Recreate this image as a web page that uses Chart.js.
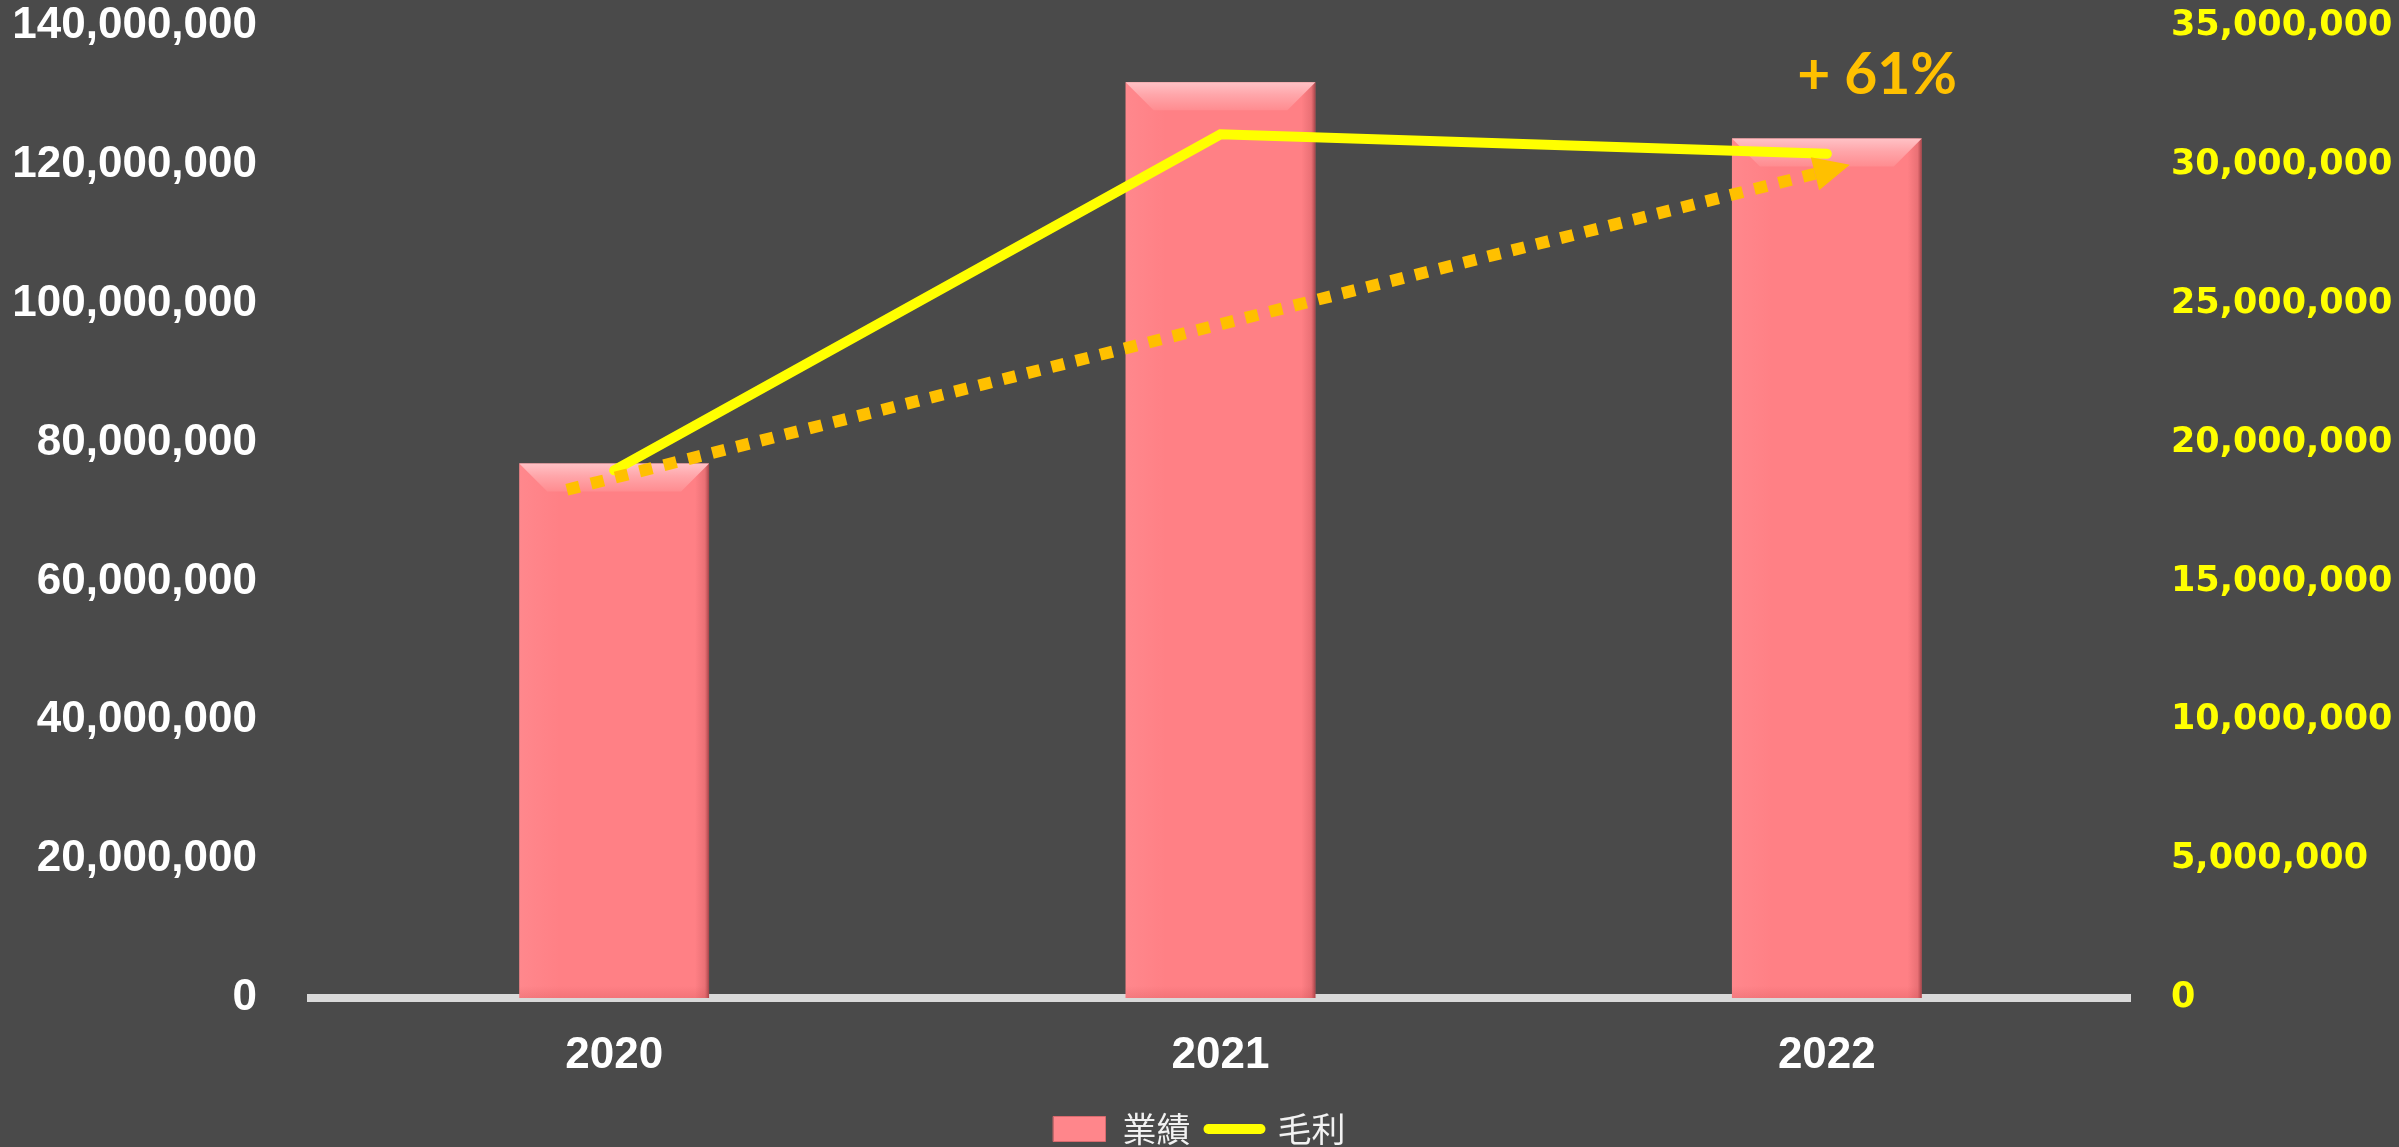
<!DOCTYPE html>
<html>
<head>
<meta charset="utf-8">
<script src="https://cdn.jsdelivr.net/npm/chart.js@4.4.1/dist/chart.umd.min.js"></script>
<style>
  html, body { margin: 0; padding: 0; background: #4a4a4a; }
  #wrap { width: 2399px; height: 1147px; }
</style>
</head>
<body>
<div id="wrap"><canvas id="myChart" width="2399" height="1147"></canvas></div>
<script>
// data
const years = ["2020", "2021", "2022"];
const sales = [77000000, 131900000, 123800000];      // 業績 (left axis)
const grossProfit = [19000000, 31100000, 30400000];  // 毛利 (right axis)
const salesLabel = "業績";
const profitLabel = "毛利";

// growth arrow annotation: [category index, right-axis value]
const arrowFrom = [-0.078, 18300000];
const arrowTo = [2.038, 30000000];
const growthText = "+ 61%";
const growthAt = [2.083, 33200000];

const barBevel = {
  id: "barBevel",
  afterDatasetDraw(chart, args) {
    if (args.meta.type !== "bar") return;
    const ctx = chart.ctx;
    args.meta.data.forEach((bar) => {
      const { x, y, base, width } = bar.getProps(["x", "y", "base", "width"], true);
      if (![x, y, base, width].every(Number.isFinite)) return;
      const l = x - width / 2, r = x + width / 2, b = 28;
      ctx.save();
      // left side slightly lighter
      let g = ctx.createLinearGradient(l, 0, l + 40, 0);
      g.addColorStop(0, "rgba(255,150,155,0.35)");
      g.addColorStop(1, "rgba(255,150,155,0)");
      ctx.fillStyle = g;
      ctx.fillRect(l, y, 40, base - y);
      // right edge shadow
      g = ctx.createLinearGradient(r - 14, 0, r, 0);
      g.addColorStop(0, "rgba(150,50,55,0)");
      g.addColorStop(0.7, "rgba(150,50,55,0.2)");
      g.addColorStop(1, "rgba(110,35,40,0.65)");
      ctx.fillStyle = g;
      ctx.fillRect(r - 14, y, 14, base - y);
      // bottom band
      g = ctx.createLinearGradient(0, base - 12, 0, base);
      g.addColorStop(0, "rgba(200,70,75,0)");
      g.addColorStop(1, "rgba(200,70,75,0.22)");
      ctx.fillStyle = g;
      ctx.fillRect(l, base - 12, width, 12);
      // top bevel
      g = ctx.createLinearGradient(0, y, 0, y + b);
      g.addColorStop(0, "#ffc2c6");
      g.addColorStop(0.45, "#ffa6aa");
      g.addColorStop(1, "#ff8c90");
      ctx.fillStyle = g;
      ctx.beginPath();
      ctx.moveTo(l, y); ctx.lineTo(r, y); ctx.lineTo(r - b, y + b); ctx.lineTo(l + b, y + b);
      ctx.closePath(); ctx.fill();
      ctx.restore();
    });
  },
};

const growthArrow = {
  id: "growthArrow",
  afterDatasetsDraw(chart) {
    const { ctx, scales: { x, y1 } } = chart;
    const x0 = x.getPixelForValue(arrowFrom[0]);
    const y0 = y1.getPixelForValue(arrowFrom[1]);
    const xe = x.getPixelForValue(arrowTo[0]);
    const ye = y1.getPixelForValue(arrowTo[1]);
    const ang = Math.atan2(ye - y0, xe - x0);
    const headLen = 36, headHalf = 17;
    const bx = xe - headLen * Math.cos(ang), by = ye - headLen * Math.sin(ang);
    ctx.save();
    ctx.strokeStyle = "#ffc000";
    ctx.lineWidth = 12;
    ctx.setLineDash([13, 12]);
    ctx.beginPath();
    ctx.moveTo(x0, y0);
    ctx.lineTo(bx, by);
    ctx.stroke();
    ctx.setLineDash([]);
    ctx.fillStyle = "#ffc000";
    ctx.beginPath();
    ctx.moveTo(xe, ye);
    ctx.lineTo(bx + headHalf * Math.sin(ang), by - headHalf * Math.cos(ang));
    ctx.lineTo(bx - headHalf * Math.sin(ang), by + headHalf * Math.cos(ang));
    ctx.closePath();
    ctx.fill();
    ctx.font = "bold 57px Lato";
    ctx.letterSpacing = "0px";
    ctx.textAlign = "center";
    ctx.textBaseline = "middle";
    ctx.fillText(growthText, x.getPixelForValue(growthAt[0]), y1.getPixelForValue(growthAt[1]));
    ctx.restore();
  },
};

function fmt(v) {
  return Number(v).toLocaleString("en-US");
}

const ctx = document.getElementById("myChart").getContext("2d");
const myChart = new Chart(ctx, {
  data: {
    labels: years,
    datasets: [
      {
        type: "bar",
        label: salesLabel,
        data: sales,
        yAxisID: "y",
        order: 1,
        backgroundColor: "#ff8085",
        borderWidth: 0,
        categoryPercentage: 1,
        barPercentage: 0.313,
      },
      {
        type: "line",
        label: profitLabel,
        data: grossProfit,
        yAxisID: "y1",
        order: 0,
        borderColor: "#ffff00",
        backgroundColor: "#ffff00",
        borderWidth: 10,
        borderCapStyle: "round",
        borderJoinStyle: "miter",
        pointRadius: 0,
        tension: 0,
      },
    ],
  },
  options: {
    responsive: false,
    animation: false,
    layout: { padding: { top: 26, bottom: -9, left: 0, right: 0 } },
    scales: {
      x: {
        offset: true,
        grid: { display: false, drawTicks: false },
        border: { display: true, color: "#d9d9d9", width: 8 },
        ticks: {
          color: "#ffffff",
          padding: 31,
          font: { family: "Liberation Sans", size: 44, weight: "bold" },
        },
        afterFit(scale) {
          scale.height = 96;
        },
      },
      y: {
        position: "left",
        min: 0,
        max: 140000000,
        grid: { display: false, drawTicks: false },
        border: { display: false },
        ticks: {
          stepSize: 20000000,
          color: "#ffffff",
          padding: 54,
          font: { family: "Liberation Sans", size: 44, weight: "bold" },
          callback: (v) => fmt(v),
        },
        afterFit(scale) {
          scale.width = 311;
          scale.paddingTop = 0;
          scale.paddingBottom = 0;
        },
      },
      y1: {
        position: "right",
        min: 0,
        max: 35000000,
        grid: { display: false, drawTicks: false },
        border: { display: false },
        ticks: {
          stepSize: 5000000,
          color: "#ffff00",
          padding: 41,
          font: { family: "DejaVu Sans", size: 35, weight: "bold" },
          callback: (v) => fmt(v),
        },
        afterFit(scale) {
          scale.width = 269;
          scale.paddingTop = 0;
          scale.paddingBottom = 0;
        },
      },
    },
    plugins: {
      tooltip: { enabled: false },
      legend: {
        position: "bottom",
        labels: {
          usePointStyle: true,
          pointStyleWidth: 52,
          boxHeight: 25,
          padding: 18,
          color: "#f2f2f2",
          font: { family: "Noto Sans CJK TC", size: 34 },
          generateLabels(chart) {
            return chart.data.datasets.map((ds, i) => ({
              text: ds.label,
              fillStyle: ds.type === "line" ? ds.borderColor : "#ff868b",
              strokeStyle: ds.type === "line" ? ds.borderColor : "#d86a6e",
              lineWidth: ds.type === "line" ? 10 : 1,
              lineCap: "round",
              pointStyle: ds.type === "line" ? "line" : "rect",
              fontColor: "#f2f2f2",
              datasetIndex: i,
              hidden: false,
            }));
          },
        },
      },
    },
  },
  plugins: [barBevel, growthArrow],
});
</script>
</body>
</html>
